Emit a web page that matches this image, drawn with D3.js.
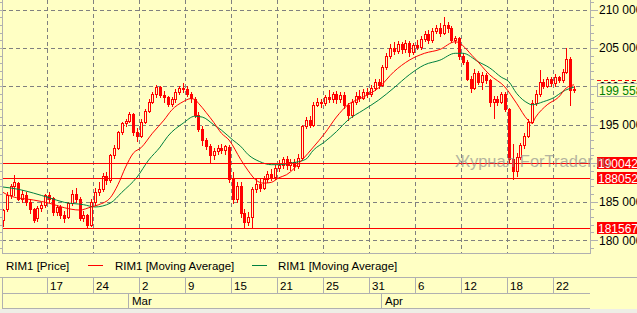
<!DOCTYPE html>
<html><head><meta charset="utf-8">
<script src="https://cdn.jsdelivr.net/npm/d3@7"></script>
<style>
html,body{margin:0;padding:0;background:#ffffc4;overflow:hidden}
svg{display:block}
text{font-family:"Liberation Sans",Arial,sans-serif}
</style></head><body>
<script>
// ---- data (prices in thousands) ----
const opens = [182.6,184.0,185.9,187.0,187.4,185.4,185.8,185.0,184.0,182.8, 184.2,184.5,185.8,185.5,183.6,184.3,183.2,183.0,184.8,186.0, 185.4,182.8,183.2,182.0,184.9,186.3,186.6,188.3,187.8,191.0, 192.0,194.0,195.2,195.5,196.4,194.0,193.6,195.4,196.8,198.0, 199.0,199.9,198.9,198.6,197.7,198.3,199.3,199.8,199.7,199.0, 198.4,196.3,194.5,193.0,192.2,191.0,191.6,192.0,191.7,192.1, 188.0,185.3,187.0,183.5,182.3,183.0,186.6,187.3,186.8,187.9, 188.6,188.2,189.4,189.8,190.5,189.7,190.2,189.6,190.7,194.8, 195.6,195.0,197.6,198.0,197.8,198.6,198.3,199.0,198.4,198.9, 197.6,196.3,198.0,198.8,198.5,199.2,199.0,199.8,200.5,200.2, 202.5,204.0,205.0,204.6,205.5,204.8,205.6,204.5,205.4,205.1, 206.2,206.8,206.0,207.2,207.6,207.0,208.0,207.6,206.0,206.3, 204.0,203.2,201.0,199.8,201.8,200.6,201.5,200.8,198.0,198.4, 198.0,199.0,197.0,190.5,189.0,190.8,192.3,193.6,195.4,197.8, 199.0,200.6,200.1,200.9,200.4,201.2,200.8,201.9,203.6,199.5];
const highs = [184.0,186.3,187.3,188.5,187.6,186.5,186.2,185.4,184.2,184.4, 185.0,186.0,186.3,185.6,184.5,184.5,183.8,185.0,186.5,186.8, 185.6,183.8,183.4,185.3,186.8,187.6,188.7,188.8,191.2,192.3, 194.2,195.4,195.8,196.6,196.5,194.6,195.7,197.1,198.3,199.3, 200.2,200.1,199.4,198.8,198.6,199.6,200.0,200.4,200.0,199.3, 198.6,196.6,194.8,193.3,192.5,192.0,192.3,192.5,192.4,192.3, 188.8,187.5,187.6,184.0,183.7,186.9,187.9,188.0,188.3,189.0, 189.3,189.8,190.4,190.8,190.9,190.6,190.5,191.2,195.0,196.0, 196.2,198.0,198.5,198.4,198.9,199.5,199.3,199.4,199.2,199.2, 197.8,198.3,199.2,199.5,199.6,199.8,200.2,200.9,201.0,202.8, 204.4,205.5,205.8,205.9,205.8,206.0,205.9,205.7,206.0,206.5, 207.2,207.3,207.6,208.0,208.2,209.0,208.4,207.8,206.6,206.4, 204.3,203.4,201.3,202.2,202.0,201.9,201.8,201.0,198.8,198.8, 199.3,199.3,197.2,192.5,191.3,192.6,193.9,195.8,198.2,199.5, 202.1,201.0,201.2,201.2,201.6,201.4,202.3,205.0,203.8,200.0];
const lows = [181.8,183.8,185.5,185.9,185.2,185.0,184.6,183.5,182.3,182.5, 183.8,184.3,184.9,183.3,183.3,182.8,182.3,182.8,184.5,185.0, 182.6,182.5,181.6,181.8,184.6,185.8,186.4,187.3,187.6,190.7, 191.8,193.8,194.9,195.3,193.7,192.9,193.4,195.2,196.6,197.8, 198.6,198.6,198.0,197.4,197.5,198.0,199.0,199.2,198.7,198.0, 196.0,194.2,192.4,191.8,190.0,190.5,191.2,191.3,191.2,187.6, 184.8,184.9,183.0,181.6,181.9,181.6,186.2,186.4,186.6,187.6, 187.8,187.9,189.0,189.4,189.3,189.1,189.1,189.4,190.5,194.6, 194.7,194.8,197.4,197.3,197.6,198.0,198.0,197.8,198.0,197.2, 195.6,196.0,197.7,198.1,198.3,198.6,198.8,199.5,199.8,200.0, 202.2,203.7,204.2,204.3,204.4,204.5,204.0,204.2,204.8,204.9, 205.9,205.6,205.8,206.9,206.5,206.8,207.1,205.8,205.6,203.6, 202.9,200.8,199.3,199.6,200.3,199.6,200.4,197.4,195.9,197.6, 197.8,196.8,190.2,188.0,188.3,190.5,192.0,193.4,195.2,197.6, 198.8,199.8,199.9,200.0,200.1,200.6,200.6,201.7,197.6,199.2];
const closes = [183.9,185.9,187.0,187.6,185.4,186.0,185.0,184.0,182.6,184.2, 184.5,185.8,185.4,183.6,184.3,183.2,182.9,184.8,186.0,185.4, 182.8,183.3,182.0,184.9,186.3,186.6,188.3,187.8,191.0,192.0, 194.0,195.2,195.5,196.4,194.0,193.6,195.4,196.8,198.0,199.0, 199.9,198.9,198.6,197.7,198.3,199.3,199.8,199.7,199.0,198.5, 196.3,194.5,193.0,192.2,191.0,191.6,192.0,191.7,192.2,188.0, 185.3,187.0,183.5,182.3,183.0,186.6,187.3,186.8,187.9,188.6, 188.2,189.4,189.8,190.5,189.7,190.2,189.6,190.7,194.8,195.6, 195.0,197.6,198.0,197.8,198.6,198.3,199.0,198.4,198.9,197.6, 196.3,198.0,198.8,198.5,199.2,199.0,199.8,200.5,200.2,202.5, 204.0,205.0,204.6,205.5,204.8,205.6,204.5,205.4,205.1,206.2, 206.8,206.0,207.2,207.6,207.0,208.0,207.6,206.0,206.3,204.0, 203.2,201.0,199.8,201.8,200.6,201.5,200.8,198.0,198.4,198.0, 199.0,197.0,190.5,189.0,190.8,192.3,193.6,195.4,197.8,199.0, 200.6,200.1,200.9,200.4,201.2,200.8,201.9,203.6,199.5,199.6];

// moving averages (candle index, value in thousands)
const redMaIdx = [0,2,8,12,16,20,23,25,28,30,32,34,36,39,42,44,47,49,50,51,53,55,57,59,62,64,66,68,70,72,74,78,81,84,87,90,94,98,102,106,110,114,118,123,127,131,134,137,138,139,142,145,147,149];
const redMaVal = [186.2,185.7,185.2,184.8,184.2,183.9,184.3,184.6,185.5,187.2,189.5,191.3,192.0,193.9,195.6,196.9,198.0,198.4,198.3,197.8,196.6,195.3,193.9,193.0,190.5,189.0,187.8,187.4,187.5,188.1,188.5,190.4,192.1,193.9,196.0,197.6,198.6,199.8,201.9,203.4,204.3,204.8,205.8,203.7,201.5,199.9,197.8,195.6,195.2,196.0,197.6,198.6,199.8,200.2];
const greenMaIdx = [0,4,8,12,16,21,24,28,31,35,38,41,43,47,50,52,55,57,60,62,64,67,70,72,75,79,81,84,87,90,94,98,102,106,110,114,118,120,124,127,130,132,134,137,138,141,144,146,149];
const greenMaVal = [186.9,186.6,186.1,185.5,184.9,184.6,184.3,184.8,186.2,188.2,190.4,192.1,193.5,195.2,196.1,196.0,195.0,194.3,193.0,192.2,191.1,190.2,189.8,189.8,190.0,190.5,191.7,192.8,194.1,195.6,196.9,198.2,199.8,201.5,202.8,203.4,204.3,204.3,203.2,202.4,201.2,200.6,199.1,197.8,197.6,198.0,198.6,199.3,199.9];

const levels = [190042, 188052, 181567];
const lastPrice = 199558;
const yTicks = [180000,185000,190000,195000,200000,205000,210000];
const dayTickIdx = [11.6,23.6,35.6,47.6,59.6,71.6,83.6,95.6,107.6,119.6,131.6,143.6];
const dayLabels = ["17","24","2","9","15","21","25","31","6","12","18","22"];
const monthIdx = [32.5, 98.6];
const monthLabels = ["Mar","Apr"];
const legendNames = ["RIM1 [Price]","RIM1 [Moving Average]","RIM1 [Moving Average]"];
const watermark = "Журнал ForTrader.ru";

// ---- drawing ----
const W=637,H=313;
const BG="#ffffc4", RED="#ff0000", GREEN="#008040", GRID="#808080", BORDER="#b0b0b0";
const plotL=2, plotR=590, plotB=253;
const svg=d3.select("body").append("svg").attr("width",W).attr("height",H);
const x=d3.scaleLinear().domain([0,149]).range([3,574]);
const y=d3.scaleLinear().domain([180000,210000]).range([240,9.5]);
const cr=v=>Math.round(v)+0.5;
const fmt=v=>d3.format(",")(v).replace(/,/g," ");

svg.append("rect").attr("width",W).attr("height",H).attr("fill",BG);
svg.append("rect").attr("y",309).attr("width",W).attr("height",4).attr("fill","#eeeee6");

svg.append("clipPath").attr("id","pc").append("rect")
  .attr("x",plotL+1).attr("y",0).attr("width",plotR-plotL-1).attr("height",plotB);
const plot=svg.append("g").attr("clip-path","url(#pc)");

// grid
plot.selectAll("line.hg").data(yTicks).join("line").attr("class","hg")
  .attr("x1",plotL).attr("x2",plotR).attr("y1",d=>cr(y(d))).attr("y2",d=>cr(y(d)))
  .attr("stroke",GRID).attr("stroke-dasharray","4,3");
plot.selectAll("line.vg").data(dayTickIdx).join("line").attr("class","vg")
  .attr("x1",d=>cr(x(d))).attr("x2",d=>cr(x(d))).attr("y1",0).attr("y2",plotB)
  .attr("stroke",GRID).attr("stroke-dasharray","4,3");

// candles
const candles=d3.range(opens.length).map(i=>({i,o:opens[i]*1000,h:highs[i]*1000,l:lows[i]*1000,c:closes[i]*1000}));
const cg=plot.append("g");
candles.forEach(d=>{
  const cx=Math.round(x(d.i));
  cg.append("line").attr("x1",cx+0.5).attr("x2",cx+0.5)
    .attr("y1",Math.round(y(d.h))).attr("y2",Math.round(y(d.l))+1).attr("stroke",RED);
  const top=Math.round(y(Math.max(d.o,d.c))), bot=Math.round(y(Math.min(d.o,d.c)));
  if(d.c>=d.o){
    cg.append("rect").attr("x",cx-0.5).attr("y",top+0.5).attr("width",2).attr("height",Math.max(bot-top,1))
      .attr("fill",BG).attr("stroke",RED);
  } else {
    cg.append("rect").attr("x",cx-1).attr("y",top).attr("width",3).attr("height",Math.max(bot-top,1)+1)
      .attr("fill",RED);
  }
});

// moving averages
const maLine=d3.line().x(d=>x(d[0])).y(d=>y(d[1]*1000)).curve(d3.curveMonotoneX);
plot.append("path").datum(greenMaIdx.map((v,k)=>[v,greenMaVal[k]]))
  .attr("d",maLine).attr("fill","none").attr("stroke",GREEN).attr("stroke-width",1);
plot.append("path").datum(redMaIdx.map((v,k)=>[v,redMaVal[k]]))
  .attr("d",maLine).attr("fill","none").attr("stroke",RED).attr("stroke-width",1);

// level lines
plot.selectAll("line.lv").data(levels).join("line").attr("class","lv")
  .attr("x1",plotL).attr("x2",plotR).attr("y1",d=>cr(y(d))).attr("y2",d=>cr(y(d))).attr("stroke",RED);

// frame
svg.append("line").attr("x1",2.5).attr("x2",2.5).attr("y1",0).attr("y2",plotB+1).attr("stroke",BORDER);
svg.append("line").attr("x1",plotR+0.5).attr("x2",plotR+0.5).attr("y1",0).attr("y2",plotB+1).attr("stroke",BORDER);
svg.append("line").attr("x1",2).attr("x2",plotR+1).attr("y1",plotB+0.5).attr("y2",plotB+0.5).attr("stroke",BORDER);

// axis ticks
const allTicks=d3.range(179000,211001,1000).filter(v=>y(v)>=0&&y(v)<=plotB);
svg.selectAll("line.rt").data(allTicks).join("line").attr("class","rt")
  .attr("x1",plotR+1).attr("x2",d=>d%5000===0?plotR+8:plotR+4)
  .attr("y1",d=>cr(y(d))).attr("y2",d=>cr(y(d))).attr("stroke",BORDER);
svg.selectAll("line.lt").data(allTicks).join("line").attr("class","lt")
  .attr("x1",0).attr("x2",2).attr("y1",d=>cr(y(d))).attr("y2",d=>cr(y(d))).attr("stroke",BORDER);
svg.selectAll("text.rl").data(yTicks).join("text").attr("class","rl")
  .attr("x",599).attr("y",d=>y(d)+4.5).attr("font-size","12px").attr("fill","#000").text(fmt);

// value tags
svg.append("line").attr("x1",597).attr("x2",W).attr("y1",80.5).attr("y2",80.5)
  .attr("stroke",RED).attr("stroke-dasharray","4,3");
const gy=Math.round(y(lastPrice));
svg.append("rect").attr("x",597.5).attr("y",gy-6.5).attr("width",44).attr("height",13)
  .attr("fill",BG).attr("stroke",BORDER);
svg.append("text").attr("x",599).attr("y",gy+4.5).attr("font-size","12px").attr("fill","#008000").text(fmt(lastPrice));
levels.forEach(v=>{
  const ly=Math.round(y(v));
  svg.append("rect").attr("x",597).attr("y",ly-6).attr("width",W-597).attr("height",12).attr("fill",RED);
  svg.append("text").attr("x",598).attr("y",ly+4.5).attr("font-size","12px").attr("fill","#fff").text(v+".");
});

// watermark
svg.append("text").attr("x",455).attr("y",167).attr("font-size","17px").attr("fill","#8c8c8c")
  .attr("opacity",0.65).attr("textLength",156).attr("lengthAdjust","spacingAndGlyphs").text(watermark);

// legend
const lg=svg.append("g").attr("font-size","11.5px").attr("fill","#000");
lg.append("text").attr("x",6).attr("y",269.5).text(legendNames[0]);
lg.append("line").attr("x1",88).attr("x2",103).attr("y1",265.5).attr("y2",265.5).attr("stroke",RED);
lg.append("text").attr("x",115).attr("y",269.5).text(legendNames[1]);
lg.append("line").attr("x1",252).attr("x2",267).attr("y1",265.5).attr("y2",265.5).attr("stroke",GREEN);
lg.append("text").attr("x",278).attr("y",269.5).text(legendNames[2]);

// date axis rows
svg.append("line").attr("x1",0).attr("x2",W).attr("y1",277.5).attr("y2",277.5).attr("stroke",BORDER);
svg.append("line").attr("x1",2).attr("x2",plotR).attr("y1",293.5).attr("y2",293.5).attr("stroke",BORDER);
svg.append("line").attr("x1",2).attr("x2",plotR).attr("y1",308.5).attr("y2",308.5).attr("stroke",BORDER);
svg.append("line").attr("x1",2.5).attr("x2",2.5).attr("y1",277).attr("y2",309).attr("stroke",BORDER);
svg.selectAll("line.ds").data(dayTickIdx).join("line").attr("class","ds")
  .attr("x1",d=>cr(x(d))).attr("x2",d=>cr(x(d))).attr("y1",277).attr("y2",293).attr("stroke",BORDER);
svg.selectAll("text.dl").data(dayTickIdx).join("text").attr("class","dl")
  .attr("x",d=>Math.round(x(d))+3).attr("y",289.5).attr("font-size","11.5px").text((d,k)=>dayLabels[k]);
svg.selectAll("line.ms").data(monthIdx).join("line").attr("class","ms")
  .attr("x1",d=>cr(x(d))).attr("x2",d=>cr(x(d))).attr("y1",293).attr("y2",308).attr("stroke",BORDER);
svg.selectAll("text.ml").data(monthIdx).join("text").attr("class","ml")
  .attr("x",d=>Math.round(x(d))+4).attr("y",305).attr("font-size","11.5px").text((d,k)=>monthLabels[k]);
</script>
</body></html>
